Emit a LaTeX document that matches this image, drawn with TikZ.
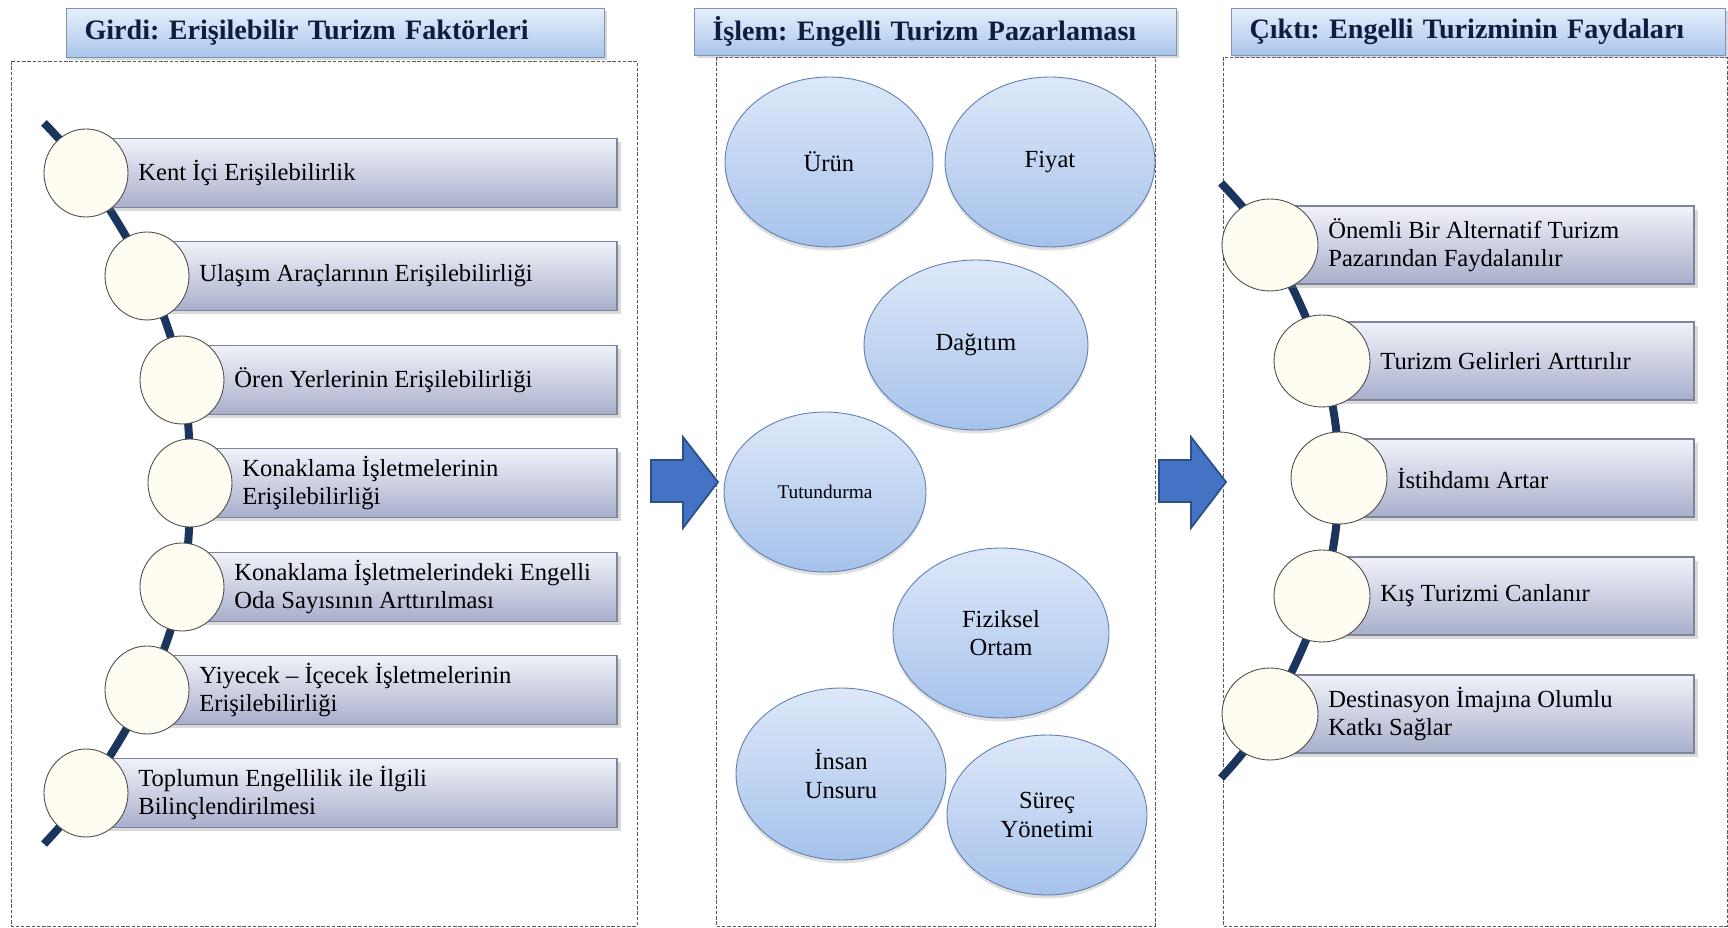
\documentclass[tikz,border=0pt]{standalone}
\usepackage{fontspec}
\setmainfont{Liberation Serif}
\usetikzlibrary{shapes.geometric,shadows,calc}
\frenchspacing

\definecolor{headtop}{HTML}{E6EFFB}
\definecolor{headbot}{HTML}{A9C5EC}
\definecolor{headedge}{HTML}{7C93B5}
\definecolor{headtext}{HTML}{0E1D3F}
\definecolor{itemtop}{HTML}{F1F2F9}
\definecolor{itembot}{HTML}{A8AFCB}
\definecolor{itemedge}{HTML}{7D849C}
\definecolor{ivory}{HTML}{FFFDF2}
\definecolor{ellitop}{HTML}{DDE8F9}
\definecolor{ellibot}{HTML}{A6C2EB}
\definecolor{elliedge}{HTML}{5F7FAF}
\definecolor{arrowblue}{HTML}{4472C4}
\definecolor{arrowedge}{HTML}{2E4F87}
\definecolor{spinenavy}{HTML}{1C355E}

\tikzset{
  panel/.style={draw=gray!70!black, dash pattern=on 2pt off 1pt, line width=0.5pt},
  header/.style={draw=headedge, top color=headtop, bottom color=headbot, line width=0.6pt,
    drop shadow={shadow xshift=1.5pt, shadow yshift=-1.5pt, opacity=0.3},
    anchor=north west, align=left, inner xsep=0.36cm, text=headtext,
    font=\fontsize{16}{18}\selectfont\bfseries},
  itembox/.style={draw=itemedge, top color=itemtop, bottom color=itembot, line width=0.6pt,
    drop shadow={shadow xshift=2pt, shadow yshift=-2pt, opacity=0.3}},
  itemtext/.style={anchor=west, align=left, inner sep=0, font=\fontsize{14}{16}\selectfont},
  ldot/.style={ellipse, draw=gray!60!black, fill=ivory, line width=0.5pt, inner sep=0,
    minimum width=1.68cm, minimum height=1.76cm},
  rdot/.style={ellipse, draw=gray!60!black, fill=ivory, line width=0.5pt, inner sep=0,
    minimum width=1.92cm, minimum height=1.84cm},
  spine/.style={draw=spinenavy, line width=0.16cm},
  petal/.style={ellipse, draw=elliedge, top color=ellitop, bottom color=ellibot, line width=0.5pt,
    drop shadow={shadow xshift=0pt, shadow yshift=-2pt, opacity=0.25},
    align=center, inner sep=0, font=\fontsize{14}{16}\selectfont},
  blockarrow/.style={fill=arrowblue, draw=arrowedge, line width=1pt, line join=miter}
}

\begin{document}
\begin{tikzpicture}[x=0.02cm,y=-0.02cm]
\useasboundingbox (0,0) rectangle (1728,928);

% dashed panels
\draw[panel] (11,61) rectangle (637,926);
\draw[panel] (716,57) rectangle (1155,926);
\draw[panel] (1223,57) rectangle (1727,926);

% headers
\node[header, text width=10.04cm, minimum height=0.98cm] (hIn) at (66,8) {Girdi: Erişilebilir Turizm Faktörleri};
\node[header, text width=8.92cm, minimum height=0.94cm] (hProc) at (694,8) {İşlem: Engelli Turizm Pazarlaması};
\node[header, text width=9.16cm, minimum height=0.94cm] (hOut) at (1231,8) {Çıktı: Engelli Turizminin Faydaları};

% arrows between panels
\foreach \x in {651,1159}
  \draw[blockarrow] (\x,460) -- ++(32,0) -- ++(0,-23) -- (\x+67,482) -- (\x+32,528) -- ++(0,-26) -- (\x,502) -- cycle;

% left spine
\foreach \i/\x/\y in {1/86/173,2/147/276,3/182/380,4/190/483,5/182/587,6/147/690,7/86/793}
{
  \coordinate (l\i) at (\x,\y);
  \coordinate (le\i) at (617,\y);
}
\coordinate (lTop) at (44,123);
\coordinate (lEnd) at (44,844);
\draw[spine] plot[smooth, tension=0.6] coordinates {(lTop) (l1) (l2) (l3) (l4) (l5) (l6) (l7) (lEnd)};

\foreach \i/\txt in {1/{Kent İçi Erişilebilirlik},
                     2/{Ulaşım Araçlarının Erişilebilirliği},
                     3/{Ören Yerlerinin Erişilebilirliği},
                     4/{Konaklama İşletmelerinin\\Erişilebilirliği},
                     5/{Konaklama İşletmelerindeki Engelli\\Oda Sayısının Arttırılması},
                     6/{Yiyecek – İçecek İşletmelerinin\\Erişilebilirliği},
                     7/{Toplumun Engellilik ile İlgili\\Bilinçlendirilmesi}}
{
  \path[itembox] ($(l\i)+(0,-34.5)$) rectangle ($(le\i)+(0,34.5)$);
  \node[ldot] (ld\i) at (l\i) {};
  \node[itemtext] (lt\i) at ($(l\i)+(52,0)$) {\txt};
}

% marketing mix
\node[petal, minimum width=4.16cm, minimum height=3.4cm] (urun) at (829,162) {Ürün};
\node[petal, minimum width=4.2cm, minimum height=3.4cm] (fiyat) at (1050,162) {Fiyat};
\node[petal, minimum width=4.48cm, minimum height=3.4cm] (dagitim) at (976,345) {Dağıtım};
\node[petal, minimum width=4.04cm, minimum height=3.2cm, font=\fontsize{11}{13}\selectfont] (tutundurma) at (825,492) {Tutundurma};
\node[petal, minimum width=4.32cm, minimum height=3.4cm] (fiziksel) at (1001,633) {Fiziksel\\Ortam};
\node[petal, minimum width=4.2cm, minimum height=3.44cm] (insan) at (841,774) {İnsan\\Unsuru};
\node[petal, minimum width=4.0cm, minimum height=3.2cm] (surec) at (1047,815) {Süreç\\Yönetimi};

% right spine
\foreach \i/\x/\y in {1/1270/245,2/1322/361,3/1339/478,4/1322/596,5/1270/714}
{
  \coordinate (r\i) at (\x,\y);
  \coordinate (re\i) at (1694,\y);
}
\coordinate (rTop) at (1221,183);
\coordinate (rEnd) at (1221,778);
\draw[spine] plot[smooth, tension=0.6] coordinates {(rTop) (r1) (r2) (r3) (r4) (r5) (rEnd)};

\foreach \i/\txt in {1/{Önemli Bir Alternatif Turizm\\Pazarından Faydalanılır},
                     2/{Turizm Gelirleri Arttırılır},
                     3/{İstihdamı Artar},
                     4/{Kış Turizmi Canlanır},
                     5/{Destinasyon İmajına Olumlu\\Katkı Sağlar}}
{
  \path[itembox] ($(r\i)+(0,-39)$) rectangle ($(re\i)+(0,39)$);
  \node[rdot] (rd\i) at (r\i) {};
  \node[itemtext] (rt\i) at ($(r\i)+(58,0)$) {\txt};
}

\end{tikzpicture}
\end{document}
